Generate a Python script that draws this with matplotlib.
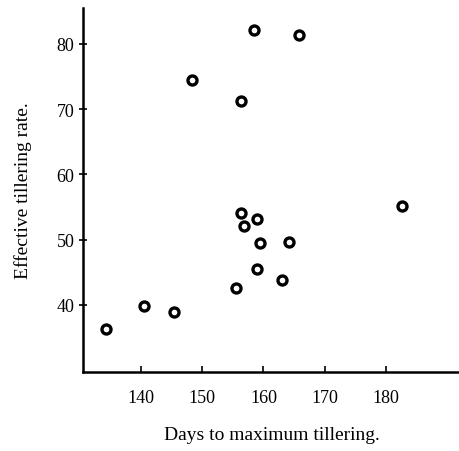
import numpy as np
import matplotlib.pyplot as plt

# Data:
days = [134.4, 140.5, 145.4, 148.4, 158.4, 165.8, 156.4, 156.4, 158.9,
        156.9, 159.5, 164.1, 158.9, 155.5, 163.0, 182.6]
rate = [36.3, 39.8, 38.9, 74.5, 82.2, 81.3, 71.3, 54.1, 53.2,
        52.1, 49.5, 49.6, 45.5, 42.6, 43.8, 55.2]
x_ticks = [140, 150, 160, 170, 180]
y_ticks = [40, 50, 60, 70, 80]

plt.rcParams['font.family'] = ['Liberation Serif', 'DejaVu Serif']

fig = plt.figure(figsize=(4.6, 4.52), dpi=100)
ax = fig.add_axes([0.18, 0.175, 0.82, 0.805])

ax.plot(days, rate, linestyle='none', marker='o', markersize=6.5,
        markerfacecolor='white', markeredgecolor='black', markeredgewidth=2.4)

ax.set_xlim(130.6, 192)
ax.set_ylim(29.7, 85.5)
ax.set_xticks(x_ticks)
ax.set_yticks(y_ticks)
ax.tick_params(axis='x', direction='in', length=4, width=1.2, labelsize=13, pad=12)
ax.tick_params(axis='y', direction='inout', length=6, width=1.2, labelsize=13, pad=3)

for side in ['top', 'right']:
    ax.spines[side].set_visible(False)
for side in ['left', 'bottom']:
    ax.spines[side].set_linewidth(1.8)

ax.set_xlabel('Days to maximum tillering.', fontsize=14, labelpad=15)
ax.set_ylabel('Effective tillering rate.', fontsize=14, labelpad=18)

fig.savefig('out.png', dpi=100)
